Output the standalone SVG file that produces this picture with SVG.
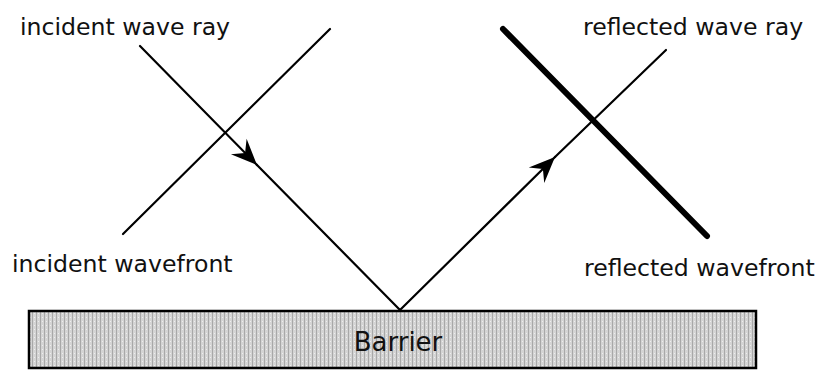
<svg xmlns="http://www.w3.org/2000/svg" width="823" height="370" viewBox="0 0 823 370">
<style>
.lbl{font-family:"DejaVu Sans",Verdana,sans-serif;font-size:23.6px;fill:#111}
.big{font-size:26px}
.thin{stroke:#000;stroke-width:2.2;fill:none;stroke-linecap:round}
.thick{stroke:#000;stroke-width:6;fill:none;stroke-linecap:round}
</style>
<defs>
<marker id="arr" markerUnits="userSpaceOnUse" markerWidth="30" markerHeight="30" refX="0" refY="0" viewBox="-26 -13 30 26" orient="auto" overflow="visible">
<path d="M0,0 L-26,-11 L-17,0 L-26,11 Z" fill="#000"/>
</marker>
<pattern id="stip" width="4" height="4" patternUnits="userSpaceOnUse">
<rect width="4" height="4" fill="#d4d4d4"/>
<rect x="0" y="0" width="1" height="4" fill="#a8a8a8"/>
<rect x="2" y="1" width="1" height="1" fill="#eeeeee"/>
</pattern>
</defs>
<rect width="823" height="370" fill="#fff"/>
<g id="barrier">
<rect x="29" y="311" width="727" height="57" fill="url(#stip)" stroke="#000" stroke-width="2.5"/>
<text class="lbl big" x="398" y="351" text-anchor="middle">Barrier</text>
</g>
<g id="incident-wavefront">
<line class="thin" x1="330" y1="29" x2="123" y2="234"/>
</g>
<g id="reflected-wavefront">
<line class="thick" x1="503" y1="29" x2="707" y2="236"/>
</g>
<g id="connectors">
<line class="thin" x1="140" y1="46" x2="257" y2="165" marker-end="url(#arr)"/>
<line class="thin" x1="257" y1="165" x2="400" y2="310"/>
<line class="thin" x1="400" y1="310" x2="555" y2="157" marker-end="url(#arr)"/>
<line class="thin" x1="555" y1="157" x2="666" y2="50"/>
</g>
<g id="labels">
<text class="lbl" x="20" y="35">incident wave ray</text>
<text class="lbl" x="583" y="35">reflected wave ray</text>
<text class="lbl" x="12" y="272">incident wavefront</text>
<text class="lbl" x="584" y="276">reflected wavefront</text>
</g>
</svg>
